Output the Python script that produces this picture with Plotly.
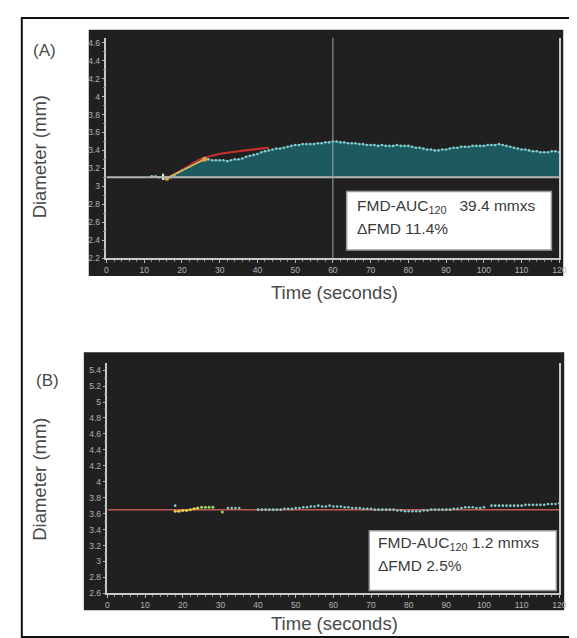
import plotly.graph_objects as go

W, H = 577, 638

# ---------------- data ----------------
# Panel A
A_pre_time = [12, 13, 14, 15]
A_pre_diam = [3.11, 3.11, 3.10, 3.11]
A_cuff_time = 15
A_cuff_span = [3.07, 3.14]
A_time = list(range(16, 121))
A_diam = [3.09, 3.10, 3.12, 3.15, 3.18, 3.20, 3.22, 3.25, 3.27, 3.29,   # 16-25
          3.30, 3.30, 3.29, 3.29, 3.29, 3.29, 3.28, 3.29, 3.30, 3.30,   # 26-35
          3.31, 3.33, 3.34, 3.35, 3.36, 3.38, 3.39, 3.40, 3.41, 3.42,   # 36-45
          3.42, 3.43, 3.44, 3.45, 3.46, 3.46, 3.47, 3.47, 3.47, 3.47,   # 46-55
          3.48, 3.48, 3.49, 3.49, 3.50, 3.50, 3.49, 3.49, 3.48, 3.48,   # 56-65
          3.48, 3.47, 3.47, 3.46, 3.46, 3.46, 3.45, 3.46, 3.45, 3.45,   # 66-75
          3.45, 3.46, 3.45, 3.45, 3.45, 3.44, 3.43, 3.43, 3.42, 3.41,   # 76-85
          3.41, 3.40, 3.40, 3.41, 3.41, 3.42, 3.43, 3.43, 3.44, 3.44,   # 86-95
          3.44, 3.45, 3.45, 3.45, 3.45, 3.46, 3.46, 3.46, 3.47, 3.46,   # 96-105
          3.45, 3.44, 3.43, 3.42, 3.41, 3.41, 3.40, 3.39, 3.39, 3.38,   # 106-115
          3.38, 3.38, 3.39, 3.39, 3.38]                                 # 116-120
A_baseline = 3.10
A_fit_time = [16.5, 20, 25, 30, 37, 43]
A_fit_diam = [3.10, 3.18, 3.30, 3.36, 3.40, 3.43]
A_rise_time = [16, 26]
A_rise_diam = [3.09, 3.30]
A_cursor_time = 60

# Panel B
B_early_time = [18, 19, 20, 21, 22, 23, 24]
B_early_diam = [3.63, 3.63, 3.64, 3.64, 3.65, 3.66, 3.67]
B_green_time = [25, 26, 27, 28, 30.5]
B_green_diam = [3.68, 3.68, 3.68, 3.68, 3.62]
B_time = [18, 32, 33, 34, 35] + list(range(40, 101)) + list(range(102, 121))
B_diam = [3.70, 3.67, 3.67, 3.67, 3.67,
          3.65, 3.65, 3.65, 3.65, 3.65, 3.65, 3.65, 3.66, 3.66, 3.66,   # 40-49
          3.67, 3.67, 3.68, 3.68, 3.69, 3.69, 3.70, 3.69, 3.69, 3.70,   # 50-59
          3.69, 3.69, 3.69, 3.68, 3.68, 3.67, 3.67, 3.67, 3.66, 3.66,   # 60-69
          3.66, 3.65, 3.65, 3.65, 3.65, 3.65, 3.65, 3.64, 3.64, 3.63,   # 70-79
          3.63, 3.63, 3.63, 3.63, 3.64, 3.64, 3.65, 3.65, 3.65, 3.65,   # 80-89
          3.65, 3.65, 3.66, 3.66, 3.67, 3.68, 3.68, 3.68, 3.67, 3.67,   # 90-99
          3.68,                                                         # 100
          3.70, 3.70, 3.70, 3.70, 3.70, 3.70, 3.70, 3.70, 3.70, 3.71,   # 102-111
          3.71, 3.71, 3.71, 3.71, 3.71, 3.72, 3.72, 3.72, 3.73]         # 112-120
B_baseline = 3.65

x_ticks = list(range(0, 121, 10))

labels = {
    "A": "(A)", "B": "(B)",
    "ylab": "Diameter (mm)", "xlab": "Time (seconds)",
    "A1": "FMD-AUC<sub>120</sub>   39.4 mmxs", "A2": "ΔFMD 11.4%",
    "B1": "FMD-AUC<sub>120</sub> 1.2 mmxs", "B2": "ΔFMD 2.5%",
}

# ---------------- styling helpers ----------------
def px(x):
    return x / W

def py(y):
    return 1 - y / H

DARK = "#202020"
TEAL = "#1c5a5f"
DOT = "#86cccc"
FONT = "Liberation Sans, Arial, sans-serif"

fig = go.Figure()

# Panel A traces
fig.add_trace(go.Scatter(x=A_time, y=[A_baseline] * len(A_time), mode="lines",
                         line=dict(width=0, color=TEAL), hoverinfo="skip",
                         showlegend=False, xaxis="x", yaxis="y"))
fig.add_trace(go.Scatter(x=A_time, y=A_diam, mode="lines+markers", fill="tonexty",
                         fillcolor=TEAL, line=dict(color="#3c8c90", width=1),
                         marker=dict(size=2.6, color=DOT), showlegend=False,
                         xaxis="x", yaxis="y"))
fig.add_trace(go.Scatter(x=A_pre_time, y=A_pre_diam, mode="lines+markers",
                         line=dict(color="#5aa8aa", width=1),
                         marker=dict(size=2.6, color=DOT), showlegend=False,
                         xaxis="x", yaxis="y"))
fig.add_trace(go.Scatter(x=A_fit_time, y=A_fit_diam, mode="lines",
                         line=dict(color="#c8322e", width=2.2, shape="spline"),
                         showlegend=False, xaxis="x", yaxis="y"))
fig.add_trace(go.Scatter(x=A_rise_time, y=A_rise_diam, mode="lines+markers",
                         line=dict(color="#c9cf5a", width=1.4),
                         marker=dict(size=5, color="#e0a040"), showlegend=False,
                         xaxis="x", yaxis="y"))
fig.add_trace(go.Scatter(x=[A_cuff_time, A_cuff_time], y=A_cuff_span, mode="lines",
                         line=dict(color="#f2f2f2", width=2), showlegend=False,
                         xaxis="x", yaxis="y"))

# Panel B traces
fig.add_trace(go.Scatter(x=B_time, y=B_diam, mode="markers",
                         marker=dict(size=2.6, color=DOT), showlegend=False,
                         xaxis="x2", yaxis="y2"))
fig.add_trace(go.Scatter(x=B_early_time, y=B_early_diam, mode="lines+markers",
                         line=dict(color="#d8b040", width=1.2),
                         marker=dict(size=3, color="#e8d050"), showlegend=False,
                         xaxis="x2", yaxis="y2"))
fig.add_trace(go.Scatter(x=B_green_time, y=B_green_diam, mode="markers",
                         marker=dict(size=3, color="#9ad070"), showlegend=False,
                         xaxis="x2", yaxis="y2"))

TICKFONT = dict(family=FONT, size=8.5, color="#b2b2b2")

# axes
def xax(domain, anchor):
    return dict(domain=domain, anchor=anchor, range=[0, 120], tickmode="array",
                tickvals=x_ticks, ticks="outside", ticklen=3, tickcolor="#b8b8b8",
                showline=True, linecolor="#c8c8c8", linewidth=1.5,
                showgrid=False, zeroline=False, tickfont=TICKFONT,
                minor=dict(ticks="outside", ticklen=2, dtick=2, tickcolor="#8a8a8a",
                           showgrid=False),
                fixedrange=True)

def yax(domain, anchor, rng, t0):
    return dict(domain=domain, anchor=anchor, range=rng, tick0=t0, dtick=0.2,
                ticks="outside", ticklen=3, tickcolor="#b8b8b8",
                showline=True, linecolor="#c8c8c8", linewidth=1.5, mirror=True,
                showgrid=False, zeroline=False, tickfont=TICKFONT,
                minor=dict(ticks="outside", ticklen=2, dtick=0.1, tickcolor="#8a8a8a",
                           showgrid=False),
                fixedrange=True)

xA = [px(98), px(558)]
yA = [py(252), py(30)]
xB = [px(99), px(558)]
yB = [py(590), py(358)]

shapes = [
    # outer frame
    dict(type="rect", xref="paper", yref="paper", x0=px(12), y0=py(634), x1=px(573), y1=py(10),
         line=dict(color="#111111", width=2), fillcolor="rgba(0,0,0,0)", layer="below"),
    # dark panels
    dict(type="rect", xref="paper", yref="paper", x0=px(80), y0=py(270), x1=px(562), y1=py(22),
         line=dict(width=0), fillcolor=DARK, layer="below"),
    dict(type="rect", xref="paper", yref="paper", x0=px(75), y0=py(607), x1=px(563), y1=py(347),
         line=dict(width=0), fillcolor=DARK, layer="below"),
    # baseline A
    dict(type="line", xref="x", yref="y", x0=0, x1=120, y0=A_baseline, y1=A_baseline,
         line=dict(color="#b4b4b4", width=2), layer="above"),
    # cursor A
    dict(type="line", xref="x", yref="paper", x0=A_cursor_time, x1=A_cursor_time,
         y0=yA[0], y1=yA[1], line=dict(color="#9aa6a6", width=1), layer="above"),
    # baseline B
    dict(type="line", xref="x2", yref="y2", x0=0, x1=120, y0=B_baseline, y1=B_baseline,
         line=dict(color="#c05a50", width=1.5), layer="below"),
    # text boxes
    dict(type="rect", xref="paper", yref="paper", x0=px(342), y0=py(244), x1=px(550), y1=py(185),
         line=dict(color="#9a9a9a", width=1.5), fillcolor="white", layer="above"),
    dict(type="rect", xref="paper", yref="paper", x0=px(365), y0=py(587), x1=px(555), y1=py(527),
         line=dict(color="#9a9a9a", width=1.5), fillcolor="white", layer="above"),
]

def ann(text, x, y, size, xanchor="center", angle=0, color="#4a4a4a"):
    return dict(text=text, xref="paper", yref="paper", x=px(x), y=py(y), showarrow=False,
                xanchor=xanchor, yanchor="middle", textangle=angle,
                font=dict(family=FONT, size=size, color=color))

annotations = [
    ann(labels["A"], 35, 43, 17),
    ann(labels["B"], 38, 375, 17),
    ann(labels["ylab"], 30, 150, 18.5, angle=-90),
    ann(labels["ylab"], 30, 475, 18.5, angle=-90),
    ann(labels["xlab"], 330, 287, 18.5),
    ann(labels["xlab"], 330, 620, 18.5),
    ann(labels["A1"], 350, 200, 15.5, xanchor="left", color="#3a3a3a"),
    ann(labels["A2"], 350, 222, 15.5, xanchor="left", color="#3a3a3a"),
    ann(labels["B1"], 372, 540, 15.5, xanchor="left", color="#3a3a3a"),
    ann(labels["B2"], 372, 562, 15.5, xanchor="left", color="#3a3a3a"),
]

fig.update_layout(
    width=W, height=H, margin=dict(l=0, r=0, t=0, b=0),
    paper_bgcolor="white", plot_bgcolor=DARK, showlegend=False,
    xaxis=xax(xA, "y"), yaxis=yax(yA, "x", [2.2, 4.656], 2.2),
    xaxis2=xax(xB, "y2"), yaxis2=yax(yB, "x2", [2.6, 5.487], 2.6),
    shapes=shapes, annotations=annotations,
)

fig.write_html("out.html")
